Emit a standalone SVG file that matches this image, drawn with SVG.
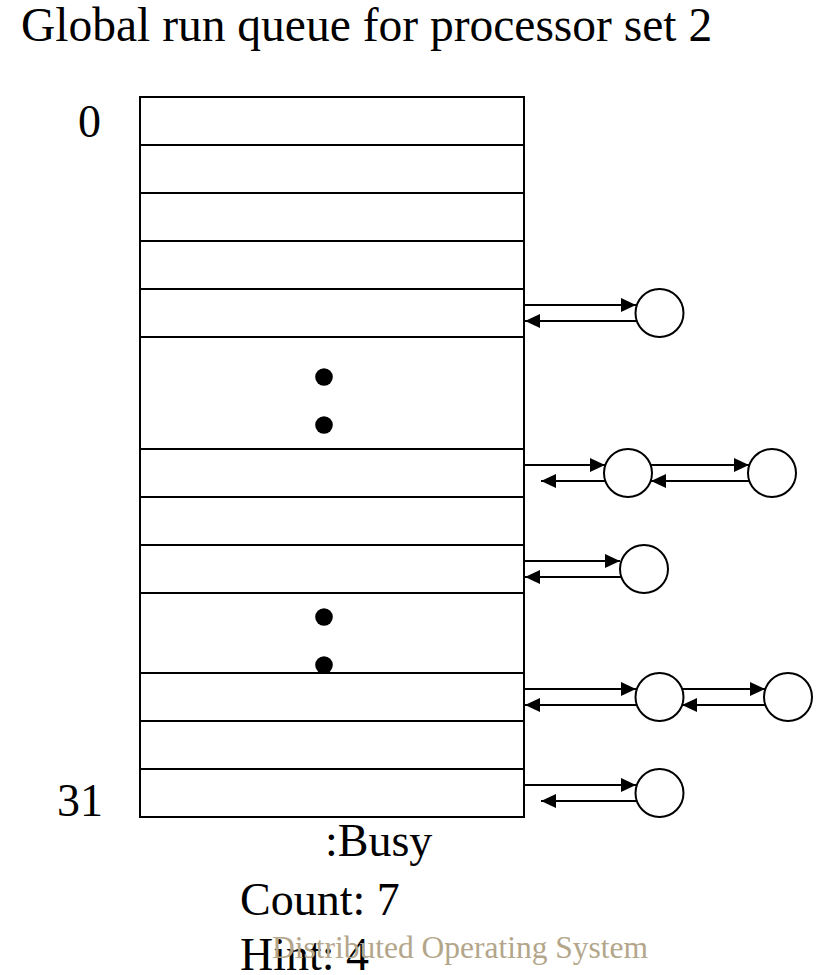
<svg xmlns="http://www.w3.org/2000/svg" width="818" height="975" viewBox="0 0 818 975">
  <style>
    .t { font-family: "Liberation Serif", "Times New Roman", serif; fill: #000; }
    .box { fill: #fff; stroke: #000; stroke-width: 2; }
    .row { stroke: #000; stroke-width: 2; }
    .dot { fill: #000; }
    .node { fill: #fff; stroke: #000; stroke-width: 2; }
    .link { stroke: #000; stroke-width: 2; fill: none; marker-end: url(#head); }
    .footer { font-family: "Liberation Serif", "Times New Roman", serif; fill: #b3a68a; }
  </style>
  <defs>
    <marker id="head" viewBox="0 0 15 14" refX="15" refY="7" markerWidth="15" markerHeight="14" markerUnits="userSpaceOnUse" orient="auto">
      <path d="M0,0 L15,7 L0,14 z" fill="#000"/>
    </marker>
  </defs>

  <rect width="818" height="975" fill="#fff"/>

  <text class="t" x="21" y="41" font-size="47.5">Global run queue for processor set 2</text>

  <!-- priority table -->
  <g id="queue">
    <rect class="box" x="140" y="97" width="384" height="720"/>
    <g class="row">
      <line x1="140" y1="145" x2="524" y2="145"/>
      <line x1="140" y1="193" x2="524" y2="193"/>
      <line x1="140" y1="241" x2="524" y2="241"/>
      <line x1="140" y1="289" x2="524" y2="289"/>
      <line x1="140" y1="337" x2="524" y2="337"/>
      <line x1="140" y1="449" x2="524" y2="449"/>
      <line x1="140" y1="497" x2="524" y2="497"/>
      <line x1="140" y1="545" x2="524" y2="545"/>
      <line x1="140" y1="593" x2="524" y2="593"/>
      <line x1="140" y1="673" x2="524" y2="673"/>
      <line x1="140" y1="721" x2="524" y2="721"/>
      <line x1="140" y1="769" x2="524" y2="769"/>
    </g>
    <circle class="dot" cx="324" cy="377" r="8.8"/>
    <circle class="dot" cx="324" cy="425" r="8.8"/>
    <circle class="dot" cx="324" cy="617" r="8.8"/>
    <circle class="dot" cx="324" cy="665" r="8.8"/>
  </g>

  <text class="t" x="78" y="137" font-size="46">0</text>
  <text class="t" x="57" y="816" font-size="46">31</text>

  <!-- thread nodes -->
  <g id="thread-a"><circle class="node" cx="659.5" cy="313" r="24"/></g>
  <g id="thread-b1"><circle class="node" cx="628" cy="473" r="24"/></g>
  <g id="thread-b2"><circle class="node" cx="772" cy="473" r="24"/></g>
  <g id="thread-c"><circle class="node" cx="644" cy="569" r="24"/></g>
  <g id="thread-d1"><circle class="node" cx="659.5" cy="697" r="24"/></g>
  <g id="thread-d2"><circle class="node" cx="788" cy="697" r="24"/></g>
  <g id="thread-e"><circle class="node" cx="659.5" cy="793" r="24"/></g>

  <!-- doubly linked list pointers -->
  <g id="connectors">
    <line class="link" x1="525" y1="305" x2="636" y2="305"/>
    <line class="link" x1="637" y1="321" x2="525" y2="321"/>

    <line class="link" x1="525" y1="465" x2="605" y2="465"/>
    <line class="link" x1="606" y1="481" x2="541" y2="481"/>
    <line class="link" x1="651" y1="465" x2="749" y2="465"/>
    <line class="link" x1="750" y1="481" x2="651" y2="481"/>

    <line class="link" x1="525" y1="561" x2="620" y2="561"/>
    <line class="link" x1="622" y1="577" x2="525" y2="577"/>

    <line class="link" x1="525" y1="689" x2="636" y2="689"/>
    <line class="link" x1="637" y1="705" x2="525" y2="705"/>
    <line class="link" x1="682" y1="689" x2="765" y2="689"/>
    <line class="link" x1="766" y1="705" x2="682" y2="705"/>

    <line class="link" x1="525" y1="785" x2="636" y2="785"/>
    <line class="link" x1="637" y1="801" x2="541" y2="801"/>
  </g>

  <text class="t" x="325" y="856" font-size="46">:Busy</text>
  <text class="t" x="240" y="915" font-size="46">Count: 7</text>
  <text class="t" x="240" y="970" font-size="46">Hint: 4</text>
  <text class="footer" x="272" y="958" font-size="31.5" textLength="376" lengthAdjust="spacing">Distributed Operating System</text>
</svg>
